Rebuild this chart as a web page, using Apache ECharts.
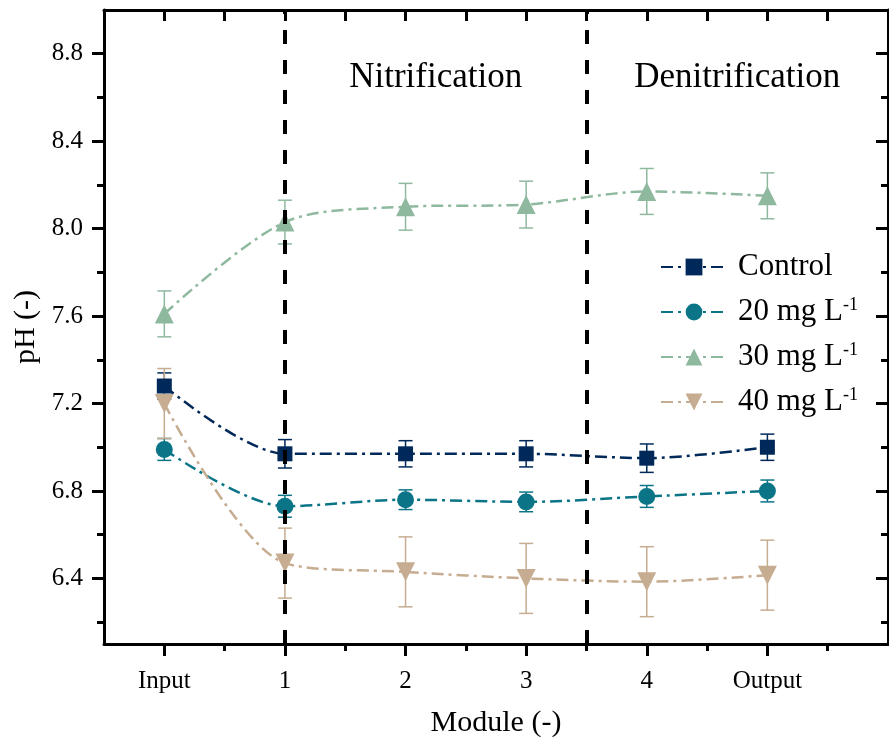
<!DOCTYPE html>
<html>
<head>
<meta charset="utf-8">
<script src="https://cdn.jsdelivr.net/npm/echarts@6/dist/echarts.min.js"></script>
<style>
  html, body { margin: 0; padding: 0; background: #fff; }
  #chart { width: 889px; height: 744px; }
</style>
</head>
<body>
<div id="chart"></div>
<script>
// Module positions along the treatment train
const modules = ['Input', '1', '2', '3', '4', 'Output'];
const positions = [0, 1, 2, 3, 4, 5];

// Mean pH and standard deviation per module
const control    = [7.28, 6.97, 6.97, 6.97, 6.95, 7.00];
const controlErr = [0.06, 0.065, 0.06, 0.06, 0.065, 0.06];
const mg20       = [6.99, 6.73, 6.76, 6.75, 6.775, 6.80];
const mg20Err    = [0.05, 0.05, 0.045, 0.045, 0.05, 0.05];
const mg30       = [7.61, 8.03, 8.10, 8.11, 8.17, 8.15];
const mg30Err    = [0.105, 0.10, 0.107, 0.107, 0.105, 0.105];
const mg40       = [7.20, 6.47, 6.43, 6.40, 6.385, 6.415];
const mg40Err    = [0.16, 0.16, 0.16, 0.16, 0.16, 0.16];

// Process zones, separated by dashed lines
const zoneBounds = [1, 3.5, 6];
const zoneNames = ['Nitrification', 'Denitrification'];

// Axis ticks
const yTicks = [6.4, 6.8, 7.2, 7.6, 8.0, 8.4, 8.8];
const yMinorTicks = [6.2, 6.6, 7.0, 7.4, 7.8, 8.2, 8.6];
const xMinorTicks = [0.5, 1.5, 2.5, 3.5, 4.5, 5.5];

const FONT = '"Liberation Serif", "Times New Roman", serif';
const X_MIN = -0.5, X_MAX = 6, Y_MIN = 6.1, Y_MAX = 9.0;

const groups = [
  { name: 'Control',  label: 'Control',           vals: control, err: controlErr, color: '#00295a', symbol: 'rect',     size: 15, rotate: 0 },
  { name: '20 mg L-1', label: '20 mg L{sup|-1}',  vals: mg20,    err: mg20Err,    color: '#0b7587', symbol: 'circle',   size: 17, rotate: 0 },
  { name: '30 mg L-1', label: '30 mg L{sup|-1}',  vals: mg30,    err: mg30Err,    color: '#8fb99f', symbol: 'triangle', size: 19, rotate: 0 },
  { name: '40 mg L-1', label: '40 mg L{sup|-1}',  vals: mg40,    err: mg40Err,    color: '#c6ac90', symbol: 'triangle', size: 19, rotate: 180 }
];

function errorBarRenderer(color) {
  return function (params, api) {
    const x = api.value(0);
    const top = api.coord([x, api.value(2)]);
    const bot = api.coord([x, api.value(1)]);
    const half = 7;
    const style = { stroke: color, lineWidth: 1.5, fill: null };
    return {
      type: 'group',
      children: [
        { type: 'line', shape: { x1: top[0], y1: top[1], x2: bot[0], y2: bot[1] }, style: style },
        { type: 'line', shape: { x1: top[0] - half, y1: top[1], x2: top[0] + half, y2: top[1] }, style: style },
        { type: 'line', shape: { x1: bot[0] - half, y1: bot[1], x2: bot[0] + half, y2: bot[1] }, style: style }
      ]
    };
  };
}

const series = [];
groups.forEach(function (g, gi) {
  series.push({
    type: 'custom',
    name: g.name + ' sd',
    xAxisIndex: 0, yAxisIndex: 0,
    renderItem: errorBarRenderer(g.color),
    encode: { x: 0, y: [1, 2] },
    data: positions.map(function (p, i) { return [p, g.vals[i] - g.err[i], g.vals[i] + g.err[i]]; }),
    silent: true,
    z: 2
  });
  const line = {
    type: 'line',
    name: g.name,
    xAxisIndex: 0, yAxisIndex: 0,
    data: positions.map(function (p, i) { return [p, g.vals[i]]; }),
    smooth: 0.3,
    symbol: g.symbol,
    symbolSize: g.size,
    symbolRotate: g.rotate,
    itemStyle: { color: g.color, opacity: 1 },
    lineStyle: { color: g.color, width: 2.5, type: [12, 5, 3, 5] },
    z: 2
  };
  if (gi === 0) {
    line.markLine = {
      silent: true,
      symbol: ['none', 'none'],
      label: { show: false },
      lineStyle: { color: '#000', width: 4, type: [14, 16] },
      data: [{ xAxis: zoneBounds[0] }, { xAxis: zoneBounds[1] }]
    };
    line.markArea = {
      silent: true,
      itemStyle: { color: 'rgba(0,0,0,0)' },
      label: {
        show: true, position: 'insideTop', distance: 50,
        fontFamily: FONT, fontSize: 35, color: '#000'
      },
      data: [
        [{ name: zoneNames[0], xAxis: zoneBounds[0] }, { xAxis: zoneBounds[1] }],
        [{ name: zoneNames[1], xAxis: zoneBounds[1] }, { xAxis: zoneBounds[2] }]
      ]
    };
  }
  series.push(line);
});

const labelMap = {};
groups.forEach(function (g) { labelMap[g.name] = g.label; });

const axisLine = { show: true, onZero: false, lineStyle: { color: '#000', width: 3 } };
const noLine = { show: false, onZero: false };
const noLabel = { show: false };

const option = {
  animation: false,
  backgroundColor: '#fff',
  grid: { left: 104, right: 1, top: 10, bottom: 100, containLabel: false },
  legend: {
    orient: 'vertical',
    left: 655,
    top: 246,
    itemWidth: 66,
    itemHeight: 21,
    itemGap: 13,
    data: groups.map(function (g) { return g.name; }),
    formatter: function (name) { return labelMap[name]; },
    textStyle: {
      fontFamily: FONT, fontSize: 31, color: '#000', lineHeight: 32,
      padding: [0, 0, 0, 6],
      rich: { sup: { fontFamily: FONT, fontSize: 18, color: '#000', verticalAlign: 'top', lineHeight: 32 } }
    }
  },
  xAxis: [
    {
      type: 'value', position: 'bottom', min: X_MIN, max: X_MAX,
      name: 'Module (-)', nameLocation: 'middle', nameGap: 64,
      nameTextStyle: { fontFamily: FONT, fontSize: 30, color: '#000' },
      axisLine: axisLine,
      axisTick: { show: true, inside: false, length: 12, lineStyle: { color: '#000', width: 3 }, customValues: positions },
      axisLabel: {
        show: true, margin: 25, fontFamily: FONT, fontSize: 25, color: '#000',
        customValues: positions,
        formatter: function (v) { return modules[Math.round(v)]; }
      },
      splitLine: { show: false }
    },
    {
      type: 'value', position: 'bottom', min: X_MIN, max: X_MAX,
      axisLine: noLine,
      axisTick: { show: true, inside: false, length: 7, lineStyle: { color: '#000', width: 3 }, customValues: xMinorTicks },
      axisLabel: noLabel, splitLine: { show: false }
    },
    {
      type: 'value', position: 'top', min: X_MIN, max: X_MAX,
      axisLine: axisLine,
      axisTick: { show: true, inside: true, length: 11, lineStyle: { color: '#000', width: 3 },
                  customValues: positions.concat(xMinorTicks) },
      axisLabel: noLabel, splitLine: { show: false }
    }
  ],
  yAxis: [
    {
      type: 'value', position: 'left', min: Y_MIN, max: Y_MAX,
      name: 'pH (-)', nameLocation: 'middle', nameGap: 60,
      nameTextStyle: { fontFamily: FONT, fontSize: 30, color: '#000' },
      axisLine: axisLine,
      axisTick: { show: true, inside: false, length: 12, lineStyle: { color: '#000', width: 3 }, customValues: yTicks },
      axisLabel: {
        show: true, margin: 21, fontFamily: FONT, fontSize: 25, color: '#000',
        customValues: yTicks,
        formatter: function (v) { return v.toFixed(1); }
      },
      splitLine: { show: false }
    },
    {
      type: 'value', position: 'left', min: Y_MIN, max: Y_MAX,
      axisLine: noLine,
      axisTick: { show: true, inside: false, length: 7, lineStyle: { color: '#000', width: 3 }, customValues: yMinorTicks },
      axisLabel: noLabel, splitLine: { show: false }
    },
    {
      type: 'value', position: 'right', min: Y_MIN, max: Y_MAX,
      axisLine: axisLine,
      axisTick: { show: true, inside: true, length: 12, lineStyle: { color: '#000', width: 3 }, customValues: yTicks },
      axisLabel: noLabel, splitLine: { show: false }
    },
    {
      type: 'value', position: 'right', min: Y_MIN, max: Y_MAX,
      axisLine: noLine,
      axisTick: { show: true, inside: true, length: 7, lineStyle: { color: '#000', width: 3 }, customValues: yMinorTicks },
      axisLabel: noLabel, splitLine: { show: false }
    }
  ],
  series: series
};

const chart = echarts.init(document.getElementById('chart'), null, { renderer: 'canvas' });
chart.setOption(option);
</script>
</body>
</html>
